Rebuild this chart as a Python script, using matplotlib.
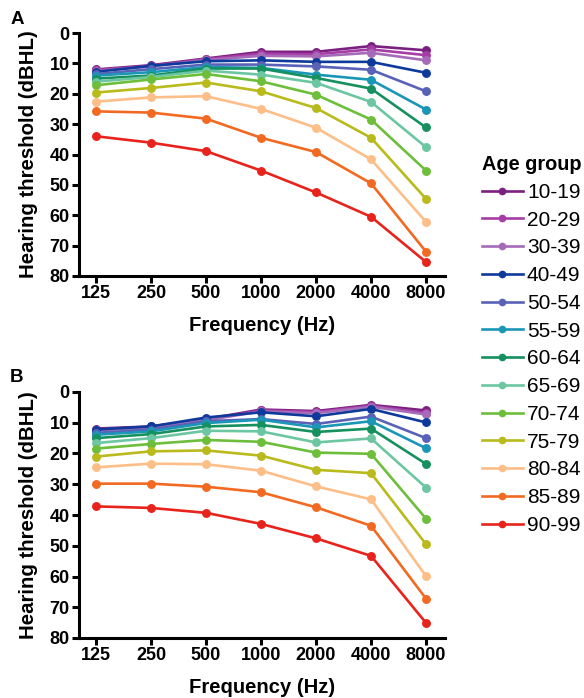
import matplotlib
matplotlib.use("Agg")
import matplotlib.pyplot as plt
from matplotlib.lines import Line2D

plt.rcParams['font.family'] = ['Liberation Sans', 'DejaVu Sans']

freqs = ["125", "250", "500", "1000", "2000", "4000", "8000"]
age_groups = ["10-19", "20-29", "30-39", "40-49", "50-54", "55-59", "60-64",
              "65-69", "70-74", "75-79", "80-84", "85-89", "90-99"]
colors = ["#7B1F80", "#A63DA6", "#A66BB8", "#0E3A9B", "#5A62B8", "#1A96B6",
          "#16905E", "#6CC6A2", "#6DBE3A", "#B9BA1C", "#FDBE88", "#F26A22", "#E8231C"]

# Panel A thresholds (dBHL)
a_10_19 = [12.0, 10.6, 8.4, 6.2, 6.2, 4.3, 5.7]
a_20_29 = [12.2, 10.8, 8.6, 6.8, 7.0, 5.4, 7.3]
a_30_39 = [12.5, 11.0, 8.9, 7.5, 7.7, 6.5, 9.0]
a_40_49 = [12.8, 10.8, 9.3, 9.0, 9.5, 9.5, 13.1]
a_50_54 = [13.5, 11.9, 10.4, 10.4, 11.0, 12.1, 19.2]
a_55_59 = [14.0, 12.9, 11.2, 11.5, 13.7, 15.4, 25.2]
a_60_64 = [15.0, 14.0, 11.7, 11.7, 14.8, 18.3, 31.1]
a_65_69 = [16.0, 14.5, 12.4, 13.7, 16.4, 22.7, 37.6]
a_70_74 = [17.2, 15.3, 13.5, 15.9, 20.3, 28.5, 45.3]
a_75_79 = [19.6, 18.1, 16.3, 19.2, 24.7, 34.5, 54.6]
a_80_84 = [22.6, 21.2, 20.8, 25.0, 31.2, 41.6, 62.2]
a_85_89 = [25.8, 26.2, 28.2, 34.5, 39.2, 49.5, 72.0]
a_90_99 = [34.0, 36.1, 38.9, 45.3, 52.5, 60.5, 75.4]

# Panel B thresholds (dBHL)
b_10_19 = [11.9, 11.2, 8.8, 5.7, 6.2, 4.2, 6.0]
b_20_29 = [12.2, 11.4, 9.0, 6.0, 6.5, 4.5, 6.8]
b_30_39 = [12.5, 11.6, 9.2, 6.3, 6.9, 4.8, 7.3]
b_40_49 = [12.2, 11.2, 8.3, 6.6, 7.9, 5.5, 9.9]
b_50_54 = [13.3, 12.2, 9.5, 8.8, 10.4, 8.0, 15.0]
b_55_59 = [13.9, 12.8, 10.1, 9.0, 11.5, 9.5, 18.3]
b_60_64 = [15.0, 13.7, 11.2, 10.7, 13.0, 11.9, 23.4]
b_65_69 = [16.6, 15.0, 12.6, 12.8, 16.4, 15.1, 31.1]
b_70_74 = [18.4, 16.9, 15.6, 16.2, 19.7, 20.1, 41.2]
b_75_79 = [21.0, 19.3, 19.0, 20.7, 25.3, 26.4, 49.5]
b_80_84 = [24.5, 23.3, 23.5, 25.6, 30.7, 34.9, 59.9]
b_85_89 = [29.8, 29.8, 30.8, 32.6, 37.5, 43.5, 67.2]
b_90_99 = [37.2, 37.7, 39.3, 42.9, 47.6, 53.3, 75.1]

panel_a = [a_10_19, a_20_29, a_30_39, a_40_49, a_50_54, a_55_59, a_60_64,
           a_65_69, a_70_74, a_75_79, a_80_84, a_85_89, a_90_99]
panel_b = [b_10_19, b_20_29, b_30_39, b_40_49, b_50_54, b_55_59, b_60_64,
           b_65_69, b_70_74, b_75_79, b_80_84, b_85_89, b_90_99]

W, H = 584, 698
fig = plt.figure(figsize=(W / 100, H / 100), dpi=100)

def px_axes(left, top, right, bottom):
    return fig.add_axes([left / W, 1 - bottom / H, (right - left) / W, (bottom - top) / H])

def draw(ax, data):
    x = list(range(len(freqs)))
    for vals, c in zip(data, colors):
        ax.plot(x, vals, color=c, lw=1.9, marker='o', ms=5.4, mec=c, mfc=c, clip_on=False)
    ax.set_xlim(-0.31, 6.345)
    ax.set_ylim(80, 0)
    ax.set_yticks(range(0, 81, 10))
    ax.set_xticks(x)
    ax.set_xticklabels(freqs)
    for s in ['top', 'right']:
        ax.spines[s].set_visible(False)
    for s in ['left', 'bottom']:
        ax.spines[s].set_linewidth(2.2)
    ax.tick_params(width=2.2, length=5, labelsize=13, pad=1.8)
    for lab in ax.get_xticklabels() + ax.get_yticklabels():
        lab.set_fontweight('bold')
    ax.set_xlabel("Frequency (Hz)", fontsize=14.6, fontweight='bold', labelpad=9.5)
    ax.set_ylabel("Hearing threshold (dBHL)", fontsize=14.7, fontweight='bold', labelpad=8)

axA = px_axes(79, 33, 445, 276)
draw(axA, panel_a)
axB = px_axes(79, 392, 445, 638)
draw(axB, panel_b)

fig.text(11 / W, 1 - 20 / H, "A", fontsize=13.5, fontweight='bold', va='center', ha='left')
fig.text(10 / W, 1 - 378 / H, "B", fontsize=13.5, fontweight='bold', va='center', ha='left')

handles = [Line2D([0], [0], color=c, lw=1.9, marker='o', ms=4.5) for c in colors]
leg = fig.legend(handles, age_groups, loc='upper left', bbox_to_anchor=(478 / W, 1 - 151 / H),
                 frameon=False, fontsize=15, title="Age group", handlelength=1.95,
                 handletextpad=0.2, labelspacing=0.42, borderaxespad=0, borderpad=0.2)
leg.get_title().set_fontweight('bold')
leg.get_title().set_fontsize(14.3)
leg._legend_box.align = "left"

fig.savefig("out.png", dpi=100)
